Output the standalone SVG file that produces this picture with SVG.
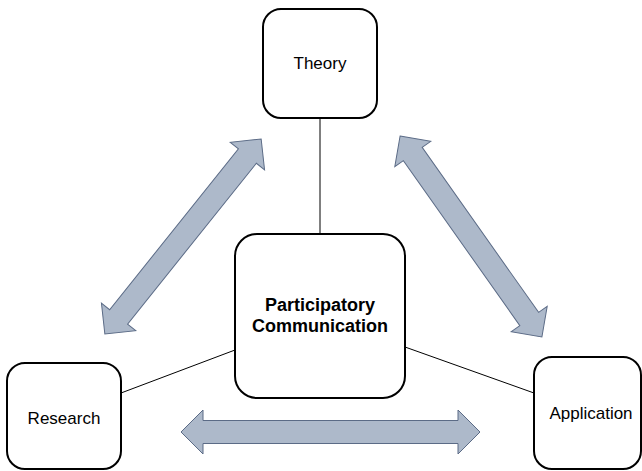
<svg xmlns="http://www.w3.org/2000/svg" width="642" height="471" viewBox="0 0 642 471">
<style>
.box{fill:#fff;stroke:#000;stroke-width:2}
.lbl{font-family:"Liberation Sans",Arial,sans-serif;font-size:17px;fill:#000;text-anchor:middle}
.bold{font-weight:bold;font-size:18px}
.conn{stroke:#000;stroke-width:1;fill:none}
.arr{fill:#ADB9CA;stroke:#5B6B86;stroke-width:1;stroke-linejoin:miter}
</style>
<rect width="642" height="471" fill="#fff"/>
<g id="connectors">
<line class="conn" x1="320" y1="118" x2="320" y2="234"/>
<line class="conn" x1="121" y1="393" x2="235" y2="350"/>
<line class="conn" x1="405" y1="347" x2="534" y2="393"/>
<path class="arr" d="M-125 0 L-103 -22 L-103 -11.5 L103 -11.5 L103 -22 L125 0 L103 22 L103 11.5 L-103 11.5 L-103 22 Z" transform="translate(183,236.5) rotate(-51.3)"/>
<path class="arr" d="M-123 0 L-101 -22 L-101 -11.5 L101 -11.5 L101 -22 L123 0 L101 22 L101 11.5 L-101 11.5 L-101 22 Z" transform="translate(471,236.5) rotate(54.8)"/>
<path class="arr" d="M181 432 L203 410 L203 420.5 L458 420.5 L458 410 L480 432 L458 454 L458 443.5 L203 443.5 L203 454 Z"/>
</g>
<g id="theory">
<rect class="box" x="263" y="9" width="114" height="109" rx="18"/>
<text class="lbl" x="320" y="69">Theory</text>
</g>
<g id="center">
<rect class="box" x="235" y="234" width="170" height="164" rx="22"/>
<text class="lbl bold" x="320" y="311">Participatory</text>
<text class="lbl bold" x="320" y="332">Communication</text>
</g>
<g id="research">
<rect class="box" x="7" y="363" width="114" height="106" rx="18"/>
<text class="lbl" x="64" y="424">Research</text>
</g>
<g id="application">
<rect class="box" x="534" y="357" width="107" height="112" rx="18"/>
<text class="lbl" x="591" y="419">Application</text>
</g>
</svg>
